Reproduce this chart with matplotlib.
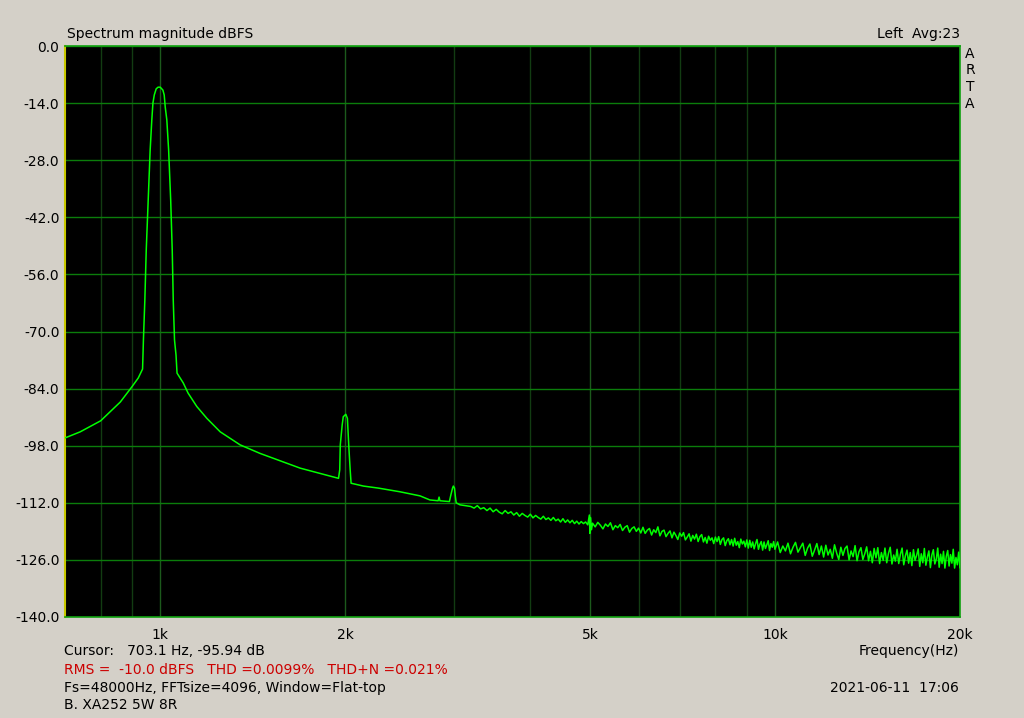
import numpy as np
import matplotlib
matplotlib.use('Agg')
import matplotlib.pyplot as plt

plt.rcParams['font.family'] = ['DejaVu Sans']

# Spectrum trace (Hz, dBFS)
freq_low = [700, 741, 800, 861, 899, 921, 936, 939, 944, 949, 956, 963, 969, 973,
            978, 985, 992, 1000, 1010, 1015, 1019, 1025, 1032, 1040, 1046, 1050,
            1055, 1061, 1065, 1090, 1110, 1147, 1191, 1252, 1349, 1454, 1567,
            1689, 1820, 1950, 1959, 1963, 1977, 1985, 2004, 2016, 2027, 2037,
            2044, 2141, 2265, 2455, 2646, 2746, 2832, 2842, 2851, 2954, 2970,
            2989, 2998, 3011, 3020, 3030, 3074, 3192]
db_low = [-96.1, -94.6, -91.9, -87.3, -83.6, -81.4, -79.2, -72.1, -62.3, -50.0,
          -37.8, -25.5, -18.1, -14.0, -12.0, -10.5, -10.1, -10.1, -10.8, -12.0,
          -15.0, -18.1, -25.5, -37.8, -50.0, -62.3, -72.1, -75.8, -80.2, -82.6,
          -85.1, -88.4, -91.3, -94.6, -97.8, -99.9, -101.7, -103.5, -104.8,
          -106.0, -103.9, -97.8, -92.9, -90.9, -90.3, -91.3, -98.4, -103.9,
          -107.2, -107.9, -108.4, -109.3, -110.3, -111.3, -111.5, -110.6, -111.5,
          -111.7, -110.1, -108.4, -107.9, -108.4, -110.3, -112.0, -112.5, -112.9]

freq_mid = [3200, 3240, 3280, 3320, 3360, 3400, 3440, 3480, 3520, 3560, 3600,
            3640, 3680, 3720, 3760, 3800, 3840, 3880, 3920, 3960, 4000, 4040,
            4080, 4120, 4160, 4200, 4240, 4280, 4320, 4360, 4400, 4440, 4480,
            4520, 4560, 4600, 4640, 4680, 4720, 4760, 4800, 4840, 4880, 4920,
            4960, 4990, 5000, 5010, 5030, 5050]
db_mid = [-112.9, -113.3, -112.7, -113.5, -113.2, -113.9, -113.3, -114.2, -113.6,
          -114.3, -114.7, -113.9, -114.6, -114.2, -115.0, -114.4, -115.3, -114.6,
          -115.1, -115.5, -114.8, -115.7, -115.1, -115.6, -116.0, -115.3, -116.1,
          -115.7, -116.3, -115.6, -116.4, -116.0, -116.7, -115.9, -116.8, -116.2,
          -116.9, -116.3, -117.1, -116.5, -117.2, -116.6, -117.1, -116.7, -117.4,
          -115.0, -119.5, -115.6, -118.6, -117.0]

freq_hi = [5100, 5150, 5200, 5250, 5300, 5350, 5400, 5450, 5500, 5550,
           5600, 5650, 5700, 5750, 5800, 5850, 5900, 5950, 6000, 6050,
           6100, 6150, 6200, 6250, 6300, 6350, 6400, 6450, 6500, 6550,
           6600, 6650, 6700, 6750, 6800, 6850, 6900, 6950, 7000, 7050,
           7100, 7150, 7200, 7250, 7300, 7350, 7400, 7450, 7500, 7550,
           7600, 7650, 7700, 7750, 7800, 7850, 7900, 7950, 8000, 8050,
           8100, 8150, 8200, 8250, 8300, 8350, 8400, 8450, 8500, 8550,
           8600, 8650, 8700, 8750, 8800, 8850, 8900, 8950, 9000, 9050,
           9100, 9150, 9200, 9250, 9300, 9350, 9400, 9450, 9500, 9550,
           9600, 9650, 9700, 9750, 9800, 9850, 9900, 9950, 10000,
           10100, 10200, 10300, 10400, 10500, 10600, 10700, 10800, 10900, 11000,
           11100, 11200, 11300, 11400, 11500, 11600, 11700, 11800, 11900, 12000,
           12100, 12200, 12300, 12400, 12500, 12600, 12700, 12800, 12900, 13000,
           13100, 13200, 13300, 13400, 13500, 13600, 13700, 13800, 13900, 14000,
           14100, 14200, 14300, 14400, 14500, 14600, 14700, 14800, 14900, 15000,
           15100, 15200, 15300, 15400, 15500, 15600, 15700, 15800, 15900, 16000,
           16100, 16200, 16300, 16400, 16500, 16600, 16700, 16800, 16900, 17000,
           17100, 17200, 17300, 17400, 17500, 17600, 17700, 17800, 17900, 18000,
           18100, 18200, 18300, 18400, 18500, 18600, 18700, 18800, 18900, 19000,
           19100, 19200, 19300, 19400, 19500, 19600, 19700, 19800, 19900, 20000]
db_hi = [-117.9, -116.8, -117.5, -118.4, -117.2, -117.8, -116.9, -118.6, -117.6, -118.1,
         -117.3, -118.8, -118.0, -117.6, -119.2, -118.3, -117.9, -119.0, -118.2, -119.4,
         -118.0, -119.5, -118.7, -118.3, -119.9, -118.6, -119.3, -117.9, -120.1, -119.0,
         -118.7, -120.3, -119.5, -118.9, -120.6, -119.2, -120.0, -121.0, -119.4, -120.2,
         -119.3, -121.1, -120.4, -119.6, -121.4, -120.0, -120.9, -119.7, -121.5, -120.3,
         -119.8, -121.6, -120.5, -121.9, -120.2, -121.2, -120.6, -122.0, -120.4, -121.5,
         -120.3, -122.2, -121.0, -120.6, -122.5, -121.3, -120.8, -122.3, -121.0, -122.6,
         -120.7, -122.4, -121.5, -123.0, -120.9, -122.1, -121.4, -122.8, -121.1, -123.1,
         -121.2, -122.9, -121.6, -123.3, -122.0, -121.0, -123.4, -122.2, -121.5, -123.6,
         -121.6, -123.2, -122.3, -121.3, -123.7, -122.0, -122.9, -121.5, -123.4,
         -121.6, -124.2, -122.6, -123.8, -121.9, -124.5, -122.9, -121.7, -124.1, -123.0,
         -121.9, -124.9, -123.1, -122.1, -125.1, -123.6, -122.0, -124.7, -122.6, -125.3,
         -122.4, -124.8, -123.4, -125.6, -122.3, -124.3, -125.9, -122.9, -124.9, -123.2,
         -122.6, -126.0, -123.8, -125.2, -122.5, -126.2, -124.0, -123.0, -125.9, -124.5,
         -122.8, -126.2, -123.9, -126.7, -123.2, -125.5, -123.0, -126.9, -124.2, -126.1,
         -123.1, -126.7, -124.4, -122.9, -127.0, -124.8, -126.3, -123.4, -126.9, -124.6,
         -123.1, -127.2, -125.0, -123.6, -126.8, -124.2, -127.4, -123.5, -126.1, -124.9,
         -123.3, -127.6, -124.5, -126.7, -123.2, -127.3, -125.3, -123.8, -127.9, -124.8,
         -123.5, -127.0, -125.8, -123.1, -127.8, -124.6, -126.9, -123.9, -128.0, -125.1,
         -123.7, -127.5, -124.7, -126.8, -123.4, -128.0, -125.4, -127.2, -124.1, -127.9]

y_ticks = [0, -14, -28, -42, -56, -70, -84, -98, -112, -126, -140]
x_grid = [800, 900, 1000, 2000, 3000, 4000, 5000, 6000, 7000, 8000, 9000, 10000, 20000]
x_major = [1000, 2000, 5000, 10000, 20000]
x_labels = ['1k', '2k', '5k', '10k', '20k']

freq = freq_low + freq_mid + freq_hi
db = db_low + db_mid + db_hi

W, H = 1024, 718
bg = '#D4D0C8'
fig = plt.figure(figsize=(W / 100, H / 100), dpi=100, facecolor=bg)
ax = fig.add_axes([65 / W, 1 - 617 / H, 895 / W, 571 / H], facecolor='black')

ax.set_xscale('log')
ax.set_xlim(700, 20000)
ax.set_ylim(-140, 0)

# grid
for f in x_grid:
    c = '#1c5a1c' if f in x_major else '#123c12'
    ax.axvline(f, color=c, lw=1.0, zorder=1)
for v in y_ticks:
    ax.axhline(v, color='#0b7d0b', lw=1.0, zorder=1)

ax.plot(freq, db, color='#00FF00', lw=1.1, zorder=3)

ax.set_yticks(y_ticks)
ax.set_yticklabels(['%.1f' % v for v in y_ticks])
ax.xaxis.set_major_locator(plt.FixedLocator(x_major))
ax.xaxis.set_minor_locator(plt.NullLocator())
ax.set_xticklabels(x_labels)
ax.tick_params(axis='y', length=0, pad=4, labelsize=10)
ax.tick_params(axis='x', length=0, pad=8, labelsize=10)

for s in ['top', 'right', 'bottom']:
    ax.spines[s].set_color('#10a010')
    ax.spines[s].set_linewidth(1.2)
ax.spines['left'].set_color('#C8C800')
ax.spines['left'].set_linewidth(1.5)


def px(x, y):
    return x / W, 1 - y / H


fs = 10
fig.text(*px(67, 34), 'Spectrum magnitude dBFS', fontsize=fs, va='center', ha='left')
fig.text(*px(960, 34), 'Left  Avg:23', fontsize=fs, va='center', ha='right')
for i, ch in enumerate('ARTA'):
    fig.text(*px(970, 54 + i * 16.5), ch, fontsize=fs, va='center', ha='center')

fig.text(*px(959, 651), 'Frequency(Hz)', fontsize=fs, va='center', ha='right')
fig.text(*px(64, 651), 'Cursor:   703.1 Hz, -95.94 dB', fontsize=fs, va='center', ha='left')
fig.text(*px(64, 670), 'RMS =  -10.0 dBFS   THD =0.0099%   THD+N =0.021%',
         fontsize=fs, va='center', ha='left', color='#CC0000')
fig.text(*px(64, 688), 'Fs=48000Hz, FFTsize=4096, Window=Flat-top',
         fontsize=fs, va='center', ha='left')
fig.text(*px(959, 688), '2021-06-11  17:06', fontsize=fs, va='center', ha='right')
fig.text(*px(64, 705), 'B. XA252 5W 8R', fontsize=fs, va='center', ha='left')

fig.savefig('out.png', dpi=100, facecolor=bg)
